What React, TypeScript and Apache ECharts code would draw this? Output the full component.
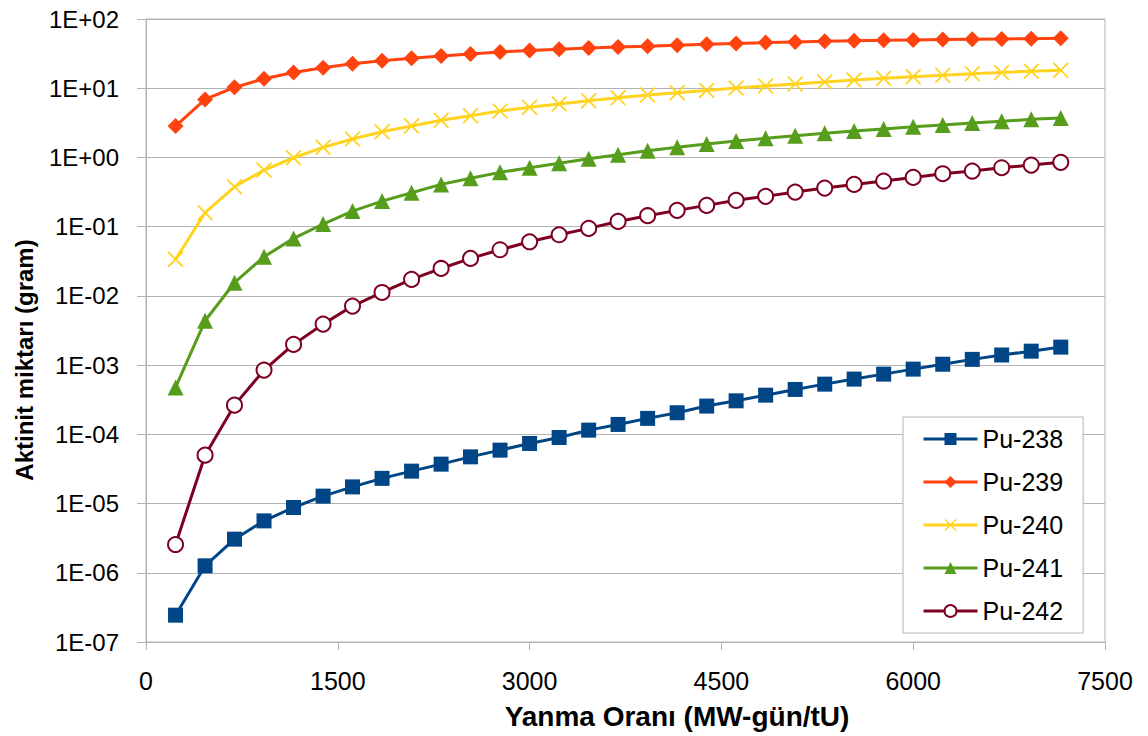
import React, { useEffect, useRef } from "react";
import * as echarts from "echarts";

const burnup = [
  231, 462, 692, 923, 1154, 1385, 1615, 1846, 2077, 2308, 2538, 2769, 3000, 3231, 3462, 3692,
  3923, 4154, 4385, 4615, 4846, 5077, 5308, 5538, 5769, 6000, 6231, 6462, 6692, 6923, 7154,
];

const pu238 = [
  2.44e-7, 1.26e-6, 3.06e-6, 5.62e-6, 8.77e-6, 1.28e-5, 1.74e-5, 2.31e-5, 2.94e-5, 3.71e-5,
  4.73e-5, 5.91e-5, 7.38e-5, 9.0e-5, 1.15e-4, 1.39e-4, 1.7e-4, 2.05e-4, 2.56e-4, 3.05e-4,
  3.68e-4, 4.45e-4, 5.31e-4, 6.28e-4, 7.41e-4, 8.75e-4, 1.03e-3, 1.21e-3, 1.4e-3, 1.59e-3,
  1.82e-3,
];
const pu239 = [
  2.84, 6.9, 10.3, 13.7, 16.9, 19.8, 22.6, 25.0, 27.0, 29.2, 31.2, 33.3, 35.2, 36.5, 38.1, 39.4,
  40.5, 41.9, 43.1, 44.4, 45.6, 46.6, 47.6, 48.4, 49.2, 49.9, 50.5, 51.0, 51.5, 52.0, 52.6,
];
const pu240 = [
  0.0337, 0.159, 0.377, 0.658, 0.99, 1.4, 1.85, 2.35, 2.85, 3.44, 4.0, 4.69, 5.3, 5.9, 6.6, 7.3,
  7.98, 8.6, 9.3, 10.07, 10.8, 11.5, 12.3, 13.1, 13.9, 14.7, 15.4, 16.2, 16.9, 17.6, 18.2,
];
const pu241 = [
  4.76e-4, 4.37e-3, 0.0155, 0.0367, 0.0677, 0.109, 0.168, 0.234, 0.309, 0.408, 0.499, 0.609,
  0.71, 0.822, 0.957, 1.09, 1.25, 1.4, 1.56, 1.73, 1.89, 2.06, 2.23, 2.41, 2.57, 2.78, 2.94,
  3.14, 3.32, 3.55, 3.71,
];
const pu242 = [
  2.56e-6, 5.0e-5, 2.64e-4, 8.47e-4, 1.99e-3, 3.91e-3, 7.13e-3, 0.0112, 0.0173, 0.0249, 0.0348,
  0.0464, 0.0605, 0.0764, 0.0944, 0.119, 0.144, 0.172, 0.203, 0.24, 0.274, 0.316, 0.361, 0.408,
  0.456, 0.515, 0.582, 0.636, 0.71, 0.776, 0.849,
];

const seriesNames = ["Pu-238", "Pu-239", "Pu-240", "Pu-241", "Pu-242"];
const xTitle = "Yanma Oranı (MW-gün/tU)";
const yTitle = "Aktinit miktarı (gram)";

const FONT = "'Liberation Sans', Arial, sans-serif";
const CROSS =
  "path://M1.6,0 L10,8.4 L18.4,0 L20,1.6 L11.6,10 L20,18.4 L18.4,20 L10,11.6 L1.6,20 L0,18.4 L8.4,10 L0,1.6 Z";

function fmtLog(v: number) {
  const e = Math.round(Math.log10(v));
  const a = Math.abs(e);
  return "1E" + (e >= 0 ? "+" : "-") + (a < 10 ? "0" + a : String(a));
}

export default function App() {
  const ref = useRef<HTMLDivElement>(null);
  useEffect(() => {
    if (!ref.current) return;
    const chart = echarts.init(ref.current, null, { renderer: "svg" });
    const pair = (ys: number[]) => burnup.map((x, i) => [x, ys[i]]);
    const mk = (name: string, ys: number[], color: string, symbol: string, size: number) => ({
      name,
      type: "line",
      data: pair(ys),
      symbol,
      symbolSize: size,
      showAllSymbol: true,
      lineStyle: { color, width: 3 },
      itemStyle: { color },
    });
    chart.setOption({
      animation: false,
      backgroundColor: "#ffffff",
      textStyle: { fontFamily: FONT },
      grid: {
        left: 146,
        right: 43,
        top: 19,
        bottom: 94,
        show: true,
        borderColor: "#b3b3b3",
        borderWidth: 1,
      },
      xAxis: {
        type: "value",
        min: 0,
        max: 7500,
        interval: 1500,
        axisLine: { show: true, lineStyle: { color: "#b3b3b3", width: 1 } },
        axisTick: { show: true, length: 8, lineStyle: { color: "#b3b3b3" } },
        splitLine: { show: false },
        axisLabel: {
          color: "#000",
          fontSize: 25,
          fontFamily: FONT,
          margin: 26,
          formatter: (v: number) => String(Math.round(v)),
        },
      },
      yAxis: {
        type: "log",
        logBase: 10,
        min: 1e-7,
        max: 100,
        interval: 1,
        axisLine: { show: true, lineStyle: { color: "#b3b3b3", width: 1 } },
        axisTick: { show: true, length: 9, lineStyle: { color: "#b3b3b3" } },
        splitLine: { show: true, lineStyle: { color: "#b3b3b3", width: 1 } },
        minorTick: { show: false },
        axisLabel: {
          color: "#000",
          fontSize: 24,
          fontFamily: FONT,
          margin: 27,
          formatter: (v: number) => fmtLog(v),
        },
      },
      legend: {
        orient: "vertical",
        left: 903,
        top: 417,
        width: 183,
        padding: [9, 20, 9, 19],
        itemGap: 17,
        itemWidth: 54,
        itemHeight: 15,
        backgroundColor: "#ffffff",
        borderColor: "#b3b3b3",
        borderWidth: 1,
        lineStyle: { width: 3 },
        textStyle: { color: "#000", fontSize: 25, fontFamily: FONT, lineHeight: 26 },
        data: seriesNames,
      },
      graphic: [
        {
          type: "text",
          x: 677,
          y: 716,
          style: {
            text: xTitle,
            font: `bold 28px ${FONT}`,
            fill: "#000",
            align: "center",
            verticalAlign: "middle",
          },
        },
        {
          type: "text",
          x: 24,
          y: 360,
          rotation: Math.PI / 2,
          style: {
            text: yTitle,
            font: `bold 24px ${FONT}`,
            fill: "#000",
            align: "center",
            verticalAlign: "middle",
          },
        },
      ],
      series: [
        mk(seriesNames[0], pu238, "#004586", "rect", 15),
        mk(seriesNames[1], pu239, "#ff420e", "diamond", 16),
        mk(seriesNames[2], pu240, "#ffd320", CROSS, 16),
        mk(seriesNames[3], pu241, "#579d1c", "triangle", 16),
        {
          ...mk(seriesNames[4], pu242, "#7e0021", "circle", 15),
          itemStyle: { color: "#ffffff", borderColor: "#7e0021", borderWidth: 2 },
        },
      ],
    });
    return () => chart.dispose();
  }, []);
  return (
    <div
      ref={ref}
      style={{ position: "fixed", left: 0, top: 0, width: 1148, height: 736, background: "#fff" }}
    />
  );
}
